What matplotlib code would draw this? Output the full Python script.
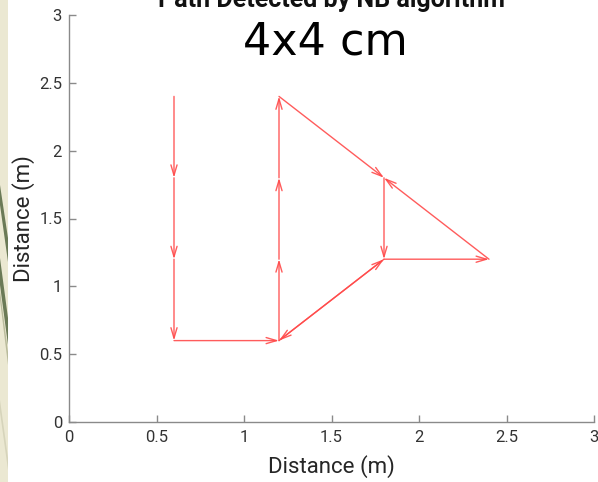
import matplotlib
matplotlib.use("Agg")
import matplotlib.pyplot as plt
from matplotlib.patches import Rectangle, Polygon

# Path segments (start -> end), in metres
x_start = [0.6, 0.6, 0.6, 0.6, 1.2, 1.2, 1.2, 1.2, 1.8, 1.8, 2.4, 1.8, 1.2]
y_start = [2.4, 1.8, 1.2, 0.6, 0.6, 1.2, 1.8, 2.4, 1.8, 1.2, 1.2, 1.2, 0.6]
x_end   = [0.6, 0.6, 0.6, 1.2, 1.2, 1.2, 1.2, 1.8, 1.8, 2.4, 1.8, 1.2, 1.8]
y_end   = [1.8, 1.2, 0.6, 0.6, 1.2, 1.8, 2.4, 1.8, 1.2, 1.2, 1.8, 0.6, 1.2]

x_ticks = [0, 0.5, 1, 1.5, 2, 2.5, 3]
y_ticks = [0, 0.5, 1, 1.5, 2, 2.5, 3]
x_ticklabels = ["0", "0.5", "1", "1.5", "2", "2.5", "3"]
y_ticklabels = ["0", "0.5", "1", "1.5", "2", "2.5", "3"]

title_text = "Path Detected by NB algorithm"
overlay_text = "4x4 cm"
xlabel_text = "Distance (m)"
ylabel_text = "Distance (m)"

plt.rcParams['font.family'] = ['Roboto', 'DejaVu Sans']

W, H = 598, 482
fig = plt.figure(figsize=(W / 100, H / 100), dpi=100)
fig.patch.set_facecolor('white')


def fp(x, y):
    return (x / W, 1 - y / H)


# decorative slide strip on the left edge
strip_w = 8
fig.patches.append(Rectangle((0, 0), strip_w / W, 1, transform=fig.transFigure,
                             facecolor='#ebe8d2', edgecolor='none', zorder=-5))
stripe_a = [fp(0, 185), fp(0, 205), fp(strip_w, 262), fp(strip_w, 238)]
stripe_b = [fp(0, 258), fp(0, 285), fp(strip_w, 345), fp(strip_w, 318)]
stripe_c = [fp(0, 290), fp(0, 300), fp(strip_w, 365), fp(strip_w, 352)]
stripe_d = [fp(0, 400), fp(0, 412), fp(strip_w, 470), fp(strip_w, 458)]
for poly, col in [(stripe_a, '#6b7a57'), (stripe_b, '#6b7a57'),
                  (stripe_c, '#b9bb9c'), (stripe_d, '#d6d4bb')]:
    fig.patches.append(Polygon(poly, closed=True, transform=fig.transFigure,
                               facecolor=col, edgecolor='none', zorder=-4))

ax = fig.add_axes([69 / W, 1 - 422 / H, (594 - 69) / W, (422 - 15) / H])
ax.set_facecolor('none')

for xs, ys, xe, ye in zip(x_start, y_start, x_end, y_end):
    ax.annotate('', xy=(xe, ye), xytext=(xs, ys),
                arrowprops=dict(arrowstyle='->,head_length=0.75,head_width=0.22',
                                color='#ff4a4a', lw=1.0, alpha=0.9,
                                shrinkA=0, shrinkB=0, mutation_scale=10))

ax.set_xlim(0, 3)
ax.set_ylim(0, 3)
ax.set_xticks(x_ticks)
ax.set_xticklabels(x_ticklabels)
ax.set_yticks(y_ticks)
ax.set_yticklabels(y_ticklabels)

for s in ['top', 'right']:
    ax.spines[s].set_visible(False)
for s in ['left', 'bottom']:
    ax.spines[s].set_color('#8a8a8a')
    ax.spines[s].set_linewidth(1.0)
ax.tick_params(direction='in', length=5, width=1.0, color='#8a8a8a',
               labelcolor='#333333', labelsize=12)
ax.tick_params(axis='x', pad=6)
ax.tick_params(axis='y', pad=5)

ax.set_xlabel(xlabel_text, fontsize=16, color='#262626', labelpad=7)
ax.set_ylabel(ylabel_text, fontsize=16, color='#262626', labelpad=3)

fig.text(331 / W, 1 - 7 / H, title_text, ha='center', va='baseline',
         fontsize=18, fontweight='bold', color='#111111')
fig.text(325 / W, 1 - 42 / H, overlay_text, ha='center', va='center',
         fontsize=32, color='black', family=['DejaVu Sans'])

fig.savefig('out.png', dpi=100)
